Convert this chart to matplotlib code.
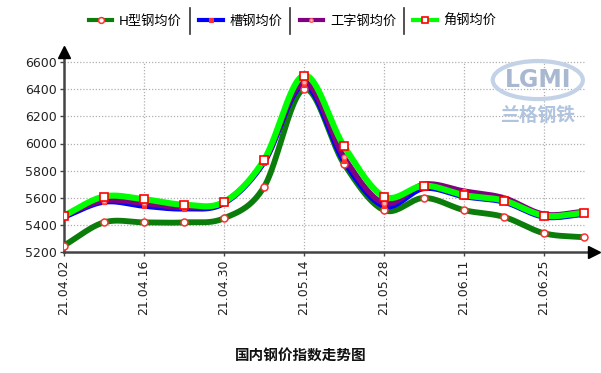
import numpy as np
import matplotlib
matplotlib.use('Agg')
import matplotlib.pyplot as plt
from matplotlib.lines import Line2D
from matplotlib.patches import Ellipse

plt.rcParams['font.family'] = ['DejaVu Sans', 'Noto Sans CJK SC']

dates = ['21.04.02', '21.04.09', '21.04.16', '21.04.23', '21.04.30', '21.05.07', '21.05.14',
         '21.05.21', '21.05.28', '21.06.04', '21.06.11', '21.06.18', '21.06.25', '21.07.02']
h_steel = [5250, 5420, 5420, 5420, 5450, 5680, 6400, 5850, 5510, 5600, 5510, 5460, 5340, 5310]
channel = [5460, 5570, 5540, 5520, 5560, 5860, 6430, 5870, 5540, 5670, 5610, 5570, 5460, 5480]
ibeam = [5470, 5580, 5560, 5530, 5570, 5870, 6450, 5900, 5560, 5700, 5650, 5600, 5480, 5500]
angle = [5470, 5610, 5590, 5550, 5570, 5880, 6500, 5980, 5610, 5690, 5620, 5580, 5470, 5490]
series_names = ['H型钢均价', '槽钢均价', '工字钢均价', '角钢均价']
yticks = [5200, 5400, 5600, 5800, 6000, 6200, 6400, 6600]
title = '国内钢价指数走势图'


def smooth(y, n=24):
    y = np.asarray(y, float)
    x = np.arange(len(y), dtype=float)
    m = np.empty_like(y)
    m[1:-1] = (y[2:] - y[:-2]) / 2
    m[0] = y[1] - y[0]
    m[-1] = y[-1] - y[-2]
    xs, ys = [], []
    for i in range(len(y) - 1):
        t = np.linspace(0, 1, n, endpoint=False)
        h00 = 2 * t**3 - 3 * t**2 + 1
        h10 = t**3 - 2 * t**2 + t
        h01 = -2 * t**3 + 3 * t**2
        h11 = t**3 - t**2
        xs.append(x[i] + t)
        ys.append(h00 * y[i] + h10 * m[i] + h01 * y[i + 1] + h11 * m[i + 1])
    xs.append([x[-1]])
    ys.append([y[-1]])
    return np.concatenate(xs), np.concatenate(ys)


W, H = 601, 373
fig = plt.figure(figsize=(W / 100, H / 100), dpi=100)
x0, x1, ybot, ytop = 64, 594, 252.3, 52
ax = fig.add_axes([x0 / W, (H - ybot) / H, (x1 - x0) / W, (ybot - ytop) / H])
ax.set_xlim(0, (x1 - x0) / 40.0)
ax.set_ylim(5200, 5200 + (ybot - ytop) / 27.2 * 200)

idx = np.arange(len(dates))
ax.hlines(yticks[1:], 0, len(dates) - 1, colors='#b0b0b0', linestyles=(0, (1, 1.5)), lw=0.9, zorder=0)
ax.vlines(idx[::2][1:], 5200, 6600, colors='#b0b0b0', linestyles=(0, (1, 1.5)), lw=0.9, zorder=0)

styles = [
    dict(color='#0b7d0b', lw=4.2, marker='o', ms=5, mfc='white', mec='#ff3030', mew=1.1),
    dict(color='#0000ff', lw=3.9, marker='s', ms=3.5, mfc='#ff3030', mec='#ff3030', mew=0.8),
    dict(color='#800080', lw=3.9, marker='o', ms=3.5, mfc='#ffb0b0', mec='#ff5050', mew=0.8),
    dict(color='#00ff00', lw=4.4, marker='s', ms=5.5, mfc='white', mec='#ff0000', mew=1.2),
]
handles = []
for vals, st, name in zip([h_steel, channel, ibeam, angle], styles, series_names):
    sx, sy = smooth(vals)
    ax.plot(sx, sy, color=st['color'], lw=st['lw'], solid_capstyle='round', zorder=2)
    ax.plot(idx, vals, ls='none', marker=st['marker'], ms=st['ms'], mfc=st['mfc'],
            mec=st['mec'], mew=st['mew'], zorder=3)
    handles.append(Line2D([], [], color=st['color'], lw=3, marker=st['marker'], ms=st['ms'] - 0.8,
                          mfc=st['mfc'], mec=st['mec'], mew=st['mew']))

for s in ['top', 'right']:
    ax.spines[s].set_visible(False)
for s in ['left', 'bottom']:
    ax.spines[s].set_color('#444444')
    ax.spines[s].set_linewidth(1.8)
ax.plot(1, 0, '>', color='black', ms=9, transform=ax.transAxes, clip_on=False, zorder=5)
ax.plot(0, 1, '^', color='black', ms=9, transform=ax.transAxes, clip_on=False, zorder=5)

ax.set_yticks(yticks)
ax.set_yticklabels([str(v) for v in yticks], fontsize=9, color='#222222')
ax.set_xticks(idx[::2])
ax.set_xticklabels(dates[::2], rotation=90, fontsize=9, color='#222222')
ax.tick_params(axis='both', length=3, width=1, color='#444444', pad=2)

# watermark logo
ax.add_patch(Ellipse((0.894, 0.86), 0.17, 0.19, transform=ax.transAxes, fill=False,
                     ec='#c4d2e8', lw=3, zorder=1))
ax.text(0.894, 0.86, 'LGMI', transform=ax.transAxes, ha='center', va='center', fontsize=17,
        color='#a8b8d0', fontweight='bold', zorder=1)
ax.text(0.894, 0.685, '兰格钢铁', transform=ax.transAxes, ha='center', va='center', fontsize=13.5,
        color='#b0c4e0', fontweight='bold', family=['Noto Sans CJK SC'], zorder=1)

leg = fig.legend(handles, series_names, loc='center', bbox_to_anchor=(0.487, 1 - 21 / H), ncol=4,
                 frameon=False, fontsize=9.5, handlelength=1.8, handletextpad=0.5,
                 columnspacing=1.3)
fig.canvas.draw()
texts = leg.get_texts()
for t in texts[:-1]:
    bb = t.get_window_extent()
    xs = (bb.x1 + 8) / W
    fig.add_artist(Line2D([xs, xs], [1 - 8 / H, 1 - 34 / H], color='#333333', lw=1.2,
                          transform=fig.transFigure))

fig.text(0.5, 1 - 355 / H, title, ha='center', va='center', fontsize=10.5, fontweight='bold',
         color='#111111', family=['Noto Sans CJK SC', 'DejaVu Sans'])

fig.savefig('out.png', dpi=100)
